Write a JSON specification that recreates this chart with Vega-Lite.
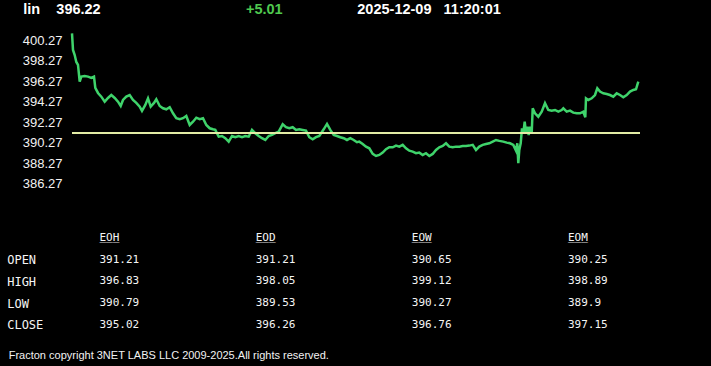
{
  "$schema": "https://vega.github.io/schema/vega-lite/v6.json",
  "width": 711,
  "height": 366,
  "padding": 0,
  "autosize": {"type": "none"},
  "background": "#000000",
  "config": {"view": {"stroke": null}, "axis": {"grid": false, "domain": false, "ticks": false}},
  "title": {
    "text": "Fracton copyright 3NET LABS LLC 2009-2025.All rights reserved.",
    "orient": "bottom", "anchor": "start", "frame": "group", "offset": -7,
    "baseline": "alphabetic", "dx": 8.7,
    "font": "Liberation Sans", "fontSize": 11, "fontWeight": "normal", "color": "#f2f2f2"
  },
  "datasets": {
    "prices": [
      {"t": 0, "price": 400.92}, {"t": 1, "price": 399.3}, {"t": 2.7, "price": 398.81}, {"t": 4.3, "price": 398.13},
      {"t": 6, "price": 397.84}, {"t": 7.7, "price": 396.21}, {"t": 9.3, "price": 396.7}, {"t": 12.7, "price": 396.76},
      {"t": 16, "price": 396.7}, {"t": 19.3, "price": 396.57}, {"t": 22, "price": 396.7}, {"t": 23.3, "price": 395.6},
      {"t": 26, "price": 395.11}, {"t": 29.3, "price": 394.75}, {"t": 32.7, "price": 394.26}, {"t": 36, "price": 394.62},
      {"t": 39.3, "price": 394.91}, {"t": 42.7, "price": 394.62}, {"t": 46, "price": 394.26}, {"t": 48.7, "price": 393.84},
      {"t": 51, "price": 394.43}, {"t": 54.3, "price": 394.75}, {"t": 57.7, "price": 394.91}, {"t": 61, "price": 394.43},
      {"t": 64.3, "price": 394.14}, {"t": 67.7, "price": 393.78}, {"t": 70, "price": 393.36}, {"t": 73.3, "price": 393.94},
      {"t": 76, "price": 394.59}, {"t": 78.7, "price": 393.78}, {"t": 82, "price": 394.14}, {"t": 84.3, "price": 394.5},
      {"t": 87.7, "price": 393.84}, {"t": 91, "price": 393.62}, {"t": 94.3, "price": 393.52}, {"t": 97.7, "price": 393.72},
      {"t": 101, "price": 393.13}, {"t": 104.3, "price": 392.65}, {"t": 107.7, "price": 392.55}, {"t": 111, "price": 392.65},
      {"t": 114.3, "price": 392.87}, {"t": 117.7, "price": 391.99}, {"t": 121, "price": 392.31}, {"t": 124.3, "price": 392.7},
      {"t": 127.7, "price": 392.55}, {"t": 131, "price": 392.65}, {"t": 134.3, "price": 391.99}, {"t": 137.7, "price": 391.67},
      {"t": 141, "price": 391.57}, {"t": 143.3, "price": 391.51}, {"t": 146.7, "price": 390.85}, {"t": 150, "price": 390.92},
      {"t": 153.3, "price": 390.7}, {"t": 156.7, "price": 390.37}, {"t": 160, "price": 390.92}, {"t": 163.3, "price": 390.8},
      {"t": 166.7, "price": 390.92}, {"t": 170, "price": 390.8}, {"t": 173.3, "price": 390.92}, {"t": 176.7, "price": 390.85},
      {"t": 180, "price": 391.51}, {"t": 183.3, "price": 391.19}, {"t": 186.7, "price": 390.92}, {"t": 190, "price": 390.7},
      {"t": 193.3, "price": 390.53}, {"t": 196.7, "price": 390.92}, {"t": 200, "price": 391.02}, {"t": 203.3, "price": 391.19},
      {"t": 206.7, "price": 391.34}, {"t": 210.7, "price": 392.06}, {"t": 214, "price": 391.77}, {"t": 217.3, "price": 391.67},
      {"t": 220.7, "price": 391.77}, {"t": 224, "price": 391.51}, {"t": 227.3, "price": 391.57}, {"t": 230.7, "price": 391.51},
      {"t": 234, "price": 391.44}, {"t": 237.3, "price": 390.8}, {"t": 240.7, "price": 390.6}, {"t": 244, "price": 390.8},
      {"t": 247.3, "price": 390.92}, {"t": 251.7, "price": 391.57}, {"t": 255, "price": 392.09}, {"t": 258.3, "price": 391.51},
      {"t": 261.7, "price": 391.02}, {"t": 265, "price": 390.92}, {"t": 268.3, "price": 390.8}, {"t": 271.7, "price": 390.7},
      {"t": 275, "price": 390.53}, {"t": 278.3, "price": 390.7}, {"t": 281.7, "price": 390.53}, {"t": 285, "price": 390.31},
      {"t": 287.3, "price": 390.37}, {"t": 290.7, "price": 390.14}, {"t": 294, "price": 389.88}, {"t": 297.3, "price": 389.72},
      {"t": 300.7, "price": 389.17}, {"t": 304, "price": 388.97}, {"t": 307.3, "price": 389.07}, {"t": 310.7, "price": 389.3},
      {"t": 314, "price": 389.63}, {"t": 317.3, "price": 389.82}, {"t": 320.7, "price": 389.82}, {"t": 324, "price": 389.98},
      {"t": 327.3, "price": 389.88}, {"t": 330.7, "price": 390.05}, {"t": 334, "price": 389.72}, {"t": 337.3, "price": 389.49},
      {"t": 340.7, "price": 389.39}, {"t": 344, "price": 389.24}, {"t": 347.3, "price": 389.3}, {"t": 350.7, "price": 389.07},
      {"t": 354, "price": 389.24}, {"t": 357.3, "price": 388.97}, {"t": 360.7, "price": 389.17}, {"t": 364, "price": 389.56},
      {"t": 367.3, "price": 389.82}, {"t": 370.7, "price": 389.95}, {"t": 374, "price": 390.21}, {"t": 377.3, "price": 389.88},
      {"t": 380.7, "price": 389.82}, {"t": 384, "price": 389.88}, {"t": 387.3, "price": 389.88}, {"t": 390.7, "price": 389.95},
      {"t": 394, "price": 389.95}, {"t": 397.3, "price": 389.98}, {"t": 400.7, "price": 390.05}, {"t": 404, "price": 389.56},
      {"t": 407.3, "price": 389.88}, {"t": 410.7, "price": 390.05}, {"t": 414, "price": 390.14}, {"t": 417.3, "price": 390.21},
      {"t": 420.7, "price": 390.37}, {"t": 424, "price": 390.53}, {"t": 427.3, "price": 390.44}, {"t": 431.3, "price": 390.37},
      {"t": 434.7, "price": 390.27}, {"t": 438, "price": 390.21}, {"t": 441.3, "price": 390.05}, {"t": 444, "price": 389.49},
      {"t": 445.3, "price": 390.21}, {"t": 446.3, "price": 388.26}, {"t": 447.3, "price": 389.56}, {"t": 448.7, "price": 390.21},
      {"t": 450, "price": 391.67}, {"t": 451.3, "price": 391.19}, {"t": 452.7, "price": 392.31}, {"t": 454, "price": 391.19},
      {"t": 455.3, "price": 391.83}, {"t": 456.7, "price": 391.02}, {"t": 458, "price": 391.83}, {"t": 459.7, "price": 391.19},
      {"t": 460.7, "price": 393.62}, {"t": 463, "price": 393.13}, {"t": 466.3, "price": 392.8}, {"t": 469.7, "price": 393.29},
      {"t": 473, "price": 394.11}, {"t": 476.3, "price": 393.45}, {"t": 479.7, "price": 393.39}, {"t": 483, "price": 393.45},
      {"t": 486.3, "price": 393.29}, {"t": 489.7, "price": 393.45}, {"t": 491.3, "price": 393.62}, {"t": 494.7, "price": 393.29},
      {"t": 498, "price": 393.39}, {"t": 501.3, "price": 393.19}, {"t": 504.7, "price": 393.13}, {"t": 508, "price": 393.13},
      {"t": 511.3, "price": 393.29}, {"t": 513.3, "price": 392.74}, {"t": 514, "price": 394.59}, {"t": 516.3, "price": 394.43},
      {"t": 519.7, "price": 394.59}, {"t": 523, "price": 394.91}, {"t": 525.3, "price": 395.57}, {"t": 528, "price": 395.24},
      {"t": 531.3, "price": 395.08}, {"t": 534.7, "price": 395.01}, {"t": 538, "price": 394.91}, {"t": 541.3, "price": 394.75},
      {"t": 544.7, "price": 395.08}, {"t": 548, "price": 394.91}, {"t": 551.3, "price": 394.69}, {"t": 554.7, "price": 394.91},
      {"t": 558, "price": 395.24}, {"t": 561.3, "price": 395.4}, {"t": 564, "price": 395.47}, {"t": 566.3, "price": 396.22}
    ],
    "levels": [{"level": "open", "price": 391.21, "from": 0, "to": 568}],
    "header": [
      {"item": "symbol", "text": "lin\u00a0\u00a0\u00a0\u00a0396.22"},
      {"item": "change", "text": "+5.01"},
      {"item": "time", "text": "2025-12-09\u00a0\u00a0\u00a011:20:01"}
    ],
    "columns": [{"col": "EOH"}, {"col": "EOD"}, {"col": "EOW"}, {"col": "EOM"}],
    "table": [
      {"row": "OPEN", "col": "EOH", "value": 391.21}, {"row": "OPEN", "col": "EOD", "value": 391.21},
      {"row": "OPEN", "col": "EOW", "value": 390.65}, {"row": "OPEN", "col": "EOM", "value": 390.25},
      {"row": "HIGH", "col": "EOH", "value": 396.83}, {"row": "HIGH", "col": "EOD", "value": 398.05},
      {"row": "HIGH", "col": "EOW", "value": 399.12}, {"row": "HIGH", "col": "EOM", "value": 398.89},
      {"row": "LOW", "col": "EOH", "value": 390.79}, {"row": "LOW", "col": "EOD", "value": 389.53},
      {"row": "LOW", "col": "EOW", "value": 390.27}, {"row": "LOW", "col": "EOM", "value": 389.9},
      {"row": "CLOSE", "col": "EOH", "value": 395.02}, {"row": "CLOSE", "col": "EOD", "value": 396.26},
      {"row": "CLOSE", "col": "EOW", "value": 396.76}, {"row": "CLOSE", "col": "EOM", "value": 397.15}
    ]
  },
  "layer": [
    {
      "data": {"name": "prices"},
      "layer": [
        {
          "mark": {"type": "line", "color": "#3fd36b", "strokeWidth": 2.5},
          "encoding": {
            "x": {"field": "t", "type": "quantitative", "scale": {"domain": [0, 568], "range": [72, 640], "nice": false, "zero": false}, "axis": null},
            "y": {"field": "price", "type": "quantitative",
              "scale": {"domain": [386.27, 400.27], "range": [183.7, 40], "nice": false, "zero": false},
              "axis": {"orient": "left", "offset": -62, "values": [386.27, 388.27, 390.27, 392.27, 394.27, 396.27, 398.27, 400.27],
                "format": ".2f", "labelPadding": 0, "labelFont": "Liberation Sans", "labelFontSize": 13,
                "labelColor": "#f2f2f2", "labelOverlap": false, "labelBound": false, "labelFlush": false, "title": null}}
          }
        },
        {
          "data": {"name": "levels"},
          "mark": {"type": "rule", "color": "#e3eca5", "strokeWidth": 2},
          "encoding": {
            "x": {"field": "from", "type": "quantitative"},
            "x2": {"field": "to"},
            "y": {"field": "price", "type": "quantitative"}
          }
        }
      ]
    },
    {
      "data": {"name": "header"},
      "mark": {"type": "text", "align": "left", "baseline": "alphabetic", "font": "Liberation Sans", "fontSize": 14.5, "fontWeight": "bold"},
      "encoding": {
        "x": {"field": "item", "type": "nominal", "scale": {"type": "point", "domain": ["symbol", "gap", "change", "time"], "range": [23.3, 357.3], "padding": 0}, "axis": null},
        "y": {"datum": "header", "type": "nominal", "scale": {"type": "point", "range": [14, 14]}, "axis": null},
        "text": {"field": "text", "type": "nominal"},
        "color": {"condition": {"test": "datum.item === 'change'", "value": "#4fc84f"}, "value": "#ffffff"}
      }
    },
    {
      "layer": [
        {
          "data": {"name": "table"},
          "mark": {"type": "text", "align": "left", "baseline": "middle", "font": "DejaVu Sans Mono", "fontSize": 11, "color": "#f5f5f5"},
          "encoding": {
            "x": {"field": "col", "type": "nominal", "scale": {"type": "point", "domain": ["EOH", "EOD", "EOW", "EOM"], "range": [99.5, 568], "padding": 0}, "axis": null},
            "y": {"field": "row", "type": "nominal",
              "scale": {"type": "point", "domain": ["hdr", "OPEN", "HIGH", "LOW", "CLOSE"], "range": [238, 324.7], "padding": 0},
              "axis": {"orient": "left", "offset": -6.7, "labelAlign": "left", "labelPadding": 0, "labelFont": "DejaVu Sans Mono",
                "labelFontSize": 12, "labelColor": "#f5f5f5", "labelOverlap": false, "labelBound": false,
                "labelExpr": "datum.value === 'hdr' ? '' : datum.value", "title": null}},
            "text": {"field": "value", "type": "nominal"}
          }
        },
        {
          "data": {"name": "columns"},
          "mark": {"type": "text", "align": "left", "baseline": "middle", "font": "DejaVu Sans Mono", "fontSize": 11, "color": "#f5f5f5"},
          "encoding": {
            "x": {"field": "col", "type": "nominal"},
            "y": {"datum": "hdr", "type": "nominal"},
            "text": {"field": "col", "type": "nominal"}
          }
        },
        {
          "data": {"name": "columns"},
          "mark": {"type": "text", "text": "___", "align": "left", "baseline": "middle", "dy": -1, "font": "DejaVu Sans Mono", "fontSize": 11, "color": "#f5f5f5"},
          "encoding": {
            "x": {"field": "col", "type": "nominal"},
            "y": {"datum": "hdr", "type": "nominal"}
          }
        }
      ]
    }
  ],
  "resolve": {"scale": {"x": "independent", "y": "independent"}, "axis": {"x": "independent", "y": "independent"}}
}
